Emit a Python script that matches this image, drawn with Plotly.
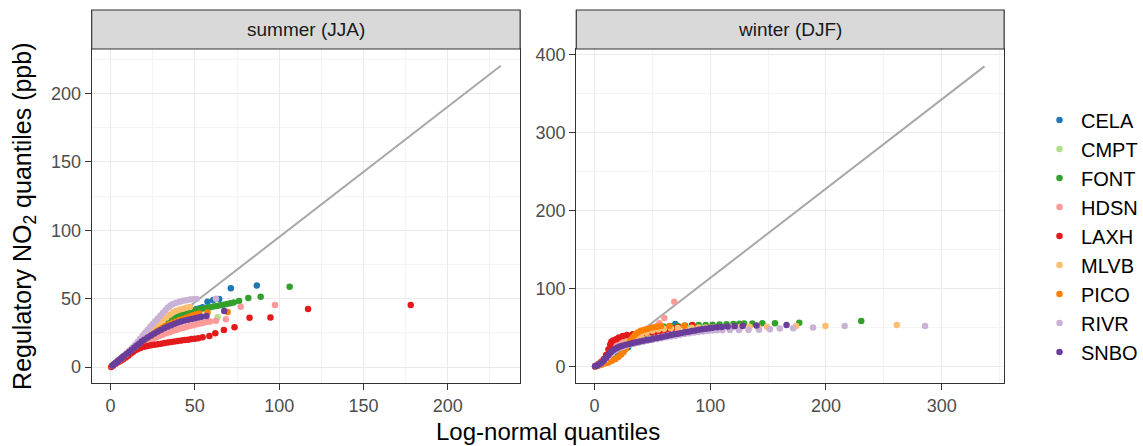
import plotly.graph_objects as go

# ---- station quantile data (x: log-normal quantiles, y: regulatory NO2 quantiles, ppb) ----
STATIONS = ["CELA", "CMPT", "FONT", "HDSN", "LAXH", "MLVB", "PICO", "RIVR", "SNBO"]
COLORS = ["#1F78B4", "#B2DF8A", "#33A02C", "#FB9A99", "#E31A1C",
          "#FDBF6F", "#FF7F00", "#CAB2D6", "#6A3D9A"]
PANEL_TITLES = ["summer (JJA)", "winter (DJF)"]

# reference lines
REF_SUMMER_X = [0.3, 231.4]
REF_SUMMER_Y = [0.0, 220.3]
REF_WINTER_X = [0.5, 337.0]
REF_WINTER_Y = [0.0, 385.0]

# summer (JJA)
CELA_SUMMER_X = [1, 3, 5, 7, 9, 11, 13, 15, 17, 19, 21, 23, 25, 27, 29, 31, 33, 35, 37, 39, 41, 43, 44.7,
                 47, 49, 51, 53, 54.6, 57.5, 60.9, 64.4, 71.3, 86.7]
CELA_SUMMER_Y = [1, 3, 5, 7, 9, 11, 13, 15, 17, 19, 21, 22.8, 24.6, 26.3, 28, 29.6, 31.1, 32.6, 34, 35.3,
                 36.6, 38, 39.7, 40.8, 41.6, 42.4, 43, 43.7, 47.8, 49, 49.7, 57.6, 59.6]

CMPT_SUMMER_X = [1, 3, 5, 7, 9, 11, 13, 15, 17, 19, 21, 23, 25, 27, 29, 31, 33, 35, 37, 39, 41, 43, 45, 63.5]
CMPT_SUMMER_Y = [1, 3, 5, 7, 9.2, 11.4, 13.6, 15.8, 18, 20, 22, 24, 25.8, 27.5, 29, 30.4, 31.6, 32.7,
                 33.6, 34.3, 34.9, 35.4, 35.8, 36.4]

FONT_SUMMER_X = [1, 3, 5, 7, 9, 11, 13, 15, 17, 19, 21, 23, 25, 27, 29, 31, 33, 35, 37, 39, 41, 43, 45,
                 47, 49, 51, 53, 55, 57, 59, 61, 63, 65, 67, 69, 71, 73, 76.2, 81.7, 89, 106.2]
FONT_SUMMER_Y = [1, 3, 5, 7, 9, 11, 13, 15, 17.2, 19.2, 21.1, 23, 24.9, 26.7, 28.5, 30.2, 31.9, 33.5,
                 35, 36.4, 37.6, 38.7, 39.7, 40.5, 41.2, 41.8, 42.3, 42.8, 43.2, 43.7, 44.2, 44.6, 45.1,
                 45.6, 46.1, 46.6, 47.2, 48.3, 50.4, 51.4, 58.7]

HDSN_SUMMER_X = [1, 3, 5, 7, 9, 11, 13, 15, 17, 19, 21, 23, 25, 27, 29, 31, 33, 35, 37, 39, 41, 43, 45,
                 47, 49, 51, 53, 55, 57, 59, 62.5, 68.4, 77.2, 97.5]
HDSN_SUMMER_Y = [0.8, 2.6, 4.4, 6.2, 8, 9.8, 11.5, 13.2, 14.8, 16.4, 17.8, 19.2, 20.4, 21.5, 22.6, 23.6,
                 24.6, 25.5, 26.3, 27.1, 27.9, 28.6, 29.3, 30, 30.6, 31.2, 31.8, 32.4, 32.9, 33.3, 33.9,
                 34.9, 44.1, 45.4]

LAXH_SUMMER_X = [0.4, 1.5, 3, 4.5, 6, 7.5, 9, 10.5, 12, 13.5, 15, 16.5, 18, 20, 22, 24, 26, 28, 30, 32,
                 34, 36, 38, 40, 42, 44, 46, 48, 50, 52, 54.6, 58.6, 62.1, 67.2, 73.5, 82.4, 94.8, 117.1,
                 178]
LAXH_SUMMER_Y = [0, 1, 2.3, 3.5, 4.6, 5.7, 7, 8.3, 9.8, 11.2, 12.4, 13.3, 14, 14.8, 15.4, 15.9, 16.3,
                 16.7, 17.1, 17.5, 17.9, 18.3, 18.7, 19, 19.4, 19.7, 20, 20.4, 20.7, 21, 21.7, 22.7, 24.6,
                 27.1, 29.1, 36.1, 36.2, 42.4, 45.4]

MLVB_SUMMER_X = [1, 3, 5, 7, 9, 11, 13, 15, 17, 19, 21, 23, 25, 27, 29, 31, 33, 35, 37, 39, 41, 43, 45, 47]
MLVB_SUMMER_Y = [1, 3, 5, 7, 9.2, 11.5, 13.8, 16, 18.3, 20.5, 22.7, 25, 27.2, 29.5, 31.7, 34, 36.2, 38.3,
                 40, 41.2, 42, 42.7, 43.3, 43.8]

PICO_SUMMER_X = [1, 3, 5, 7, 9, 11, 13, 15, 17, 19, 21, 23, 25, 27, 29, 31, 33, 35, 37, 39, 41, 43, 45,
                 47, 49, 51, 52.6, 57.5, 69.4]
PICO_SUMMER_Y = [1, 3, 5, 7, 9, 11, 13, 15, 17, 19, 20.8, 22.5, 24.2, 25.8, 27.3, 28.7, 30, 31.2, 32.3,
                 33.3, 34.3, 35.2, 36.1, 37, 37.8, 38.5, 39.2, 39.8, 40.2]

RIVR_SUMMER_X = [1, 2.5, 4, 5.5, 7, 8.5, 10, 11.5, 13, 14.5, 16, 17.5, 19, 20.5, 22, 23.5, 25, 26.5, 28,
                 29.5, 31, 32.5, 34, 35.5, 37, 39, 41, 43, 45, 47, 49, 51, 62.5]
RIVR_SUMMER_Y = [1, 2.5, 4, 5.5, 7, 8.7, 10.5, 12.3, 14.2, 16.2, 18.3, 20.5, 22.8, 25, 27.3, 29.5, 31.5,
                 33.5, 35.5, 37.5, 39.5, 41.5, 43.5, 45, 46, 47, 47.8, 48.4, 48.9, 49.3, 49.6, 49.8, 50]

SNBO_SUMMER_X = [1, 2, 3, 4, 5, 6, 7, 8, 9.5, 11, 12.5, 14, 15.5, 17, 18.5, 20, 22, 24, 26, 28, 30, 32,
                 34, 36, 38, 40, 42, 44, 46, 48, 50, 52, 54, 56.9, 67.4]
SNBO_SUMMER_Y = [1, 2, 3, 4, 5, 6, 7, 8, 9.5, 11, 12.5, 14, 15.5, 17, 18.7, 20, 21.5, 23, 24.5, 26, 27.3,
                 28.5, 29.6, 30.6, 31.6, 32.5, 33.3, 34, 34.6, 35.2, 35.7, 36.2, 36.7, 37.3, 41]

# winter (DJF)
CELA_WINTER_X = [0.5, 3, 6, 9, 12, 15, 18, 21, 25.8, 29, 32, 35, 38, 42, 46, 50, 55, 60, 65, 69.8]
CELA_WINTER_Y = [0.5, 2, 4, 6.5, 9.5, 12.5, 15.5, 18, 21.4, 25, 29.5, 34, 38, 41.5, 44, 46, 48, 50, 52,
                 54.7]

CMPT_WINTER_X = [0.5, 3, 6, 9, 12, 15, 18, 21, 25, 30, 35, 40, 45, 50, 55, 60, 66, 72, 78, 85]
CMPT_WINTER_Y = [0.5, 2.5, 5, 8.5, 13, 18, 22, 25.5, 29, 32.5, 35.5, 38.5, 41.5, 44, 46, 47.5, 48.8,
                 49.8, 50.5, 51]

FONT_WINTER_X = [0.5, 3, 6, 9, 12, 15, 18, 21, 24, 28, 32, 36, 40, 45, 50, 55, 60, 66, 72, 78, 84, 90,
                 96, 102, 108, 114, 120, 125, 129.2, 136.4, 145, 155.9, 176.9, 230.5]
FONT_WINTER_Y = [0.5, 2.5, 5, 8.5, 12.5, 17, 21.5, 25.5, 29, 33, 37, 40.5, 43.5, 46.5, 48.8, 50.3, 51.2,
                 51.8, 52.3, 52.7, 53, 53.3, 53.6, 53.9, 54.2, 54.5, 54.8, 55.1, 55.4, 55.5, 55.6, 55.7,
                 56.4, 58.6]

HDSN_WINTER_X = [0.5, 3, 6, 9, 12, 15, 18, 21, 25, 30, 35, 40, 45, 50, 53, 56, 60.3, 68.9]
HDSN_WINTER_Y = [0.5, 3, 6, 10, 15, 21, 26, 30, 33, 36, 39, 42, 45, 48.5, 51.5, 55.6, 62.5, 83.3]

LAXH_WINTER_X = [0.5, 2, 4, 6, 8, 10, 12, 13.5, 14.5, 16, 18.6, 21, 24.4, 28, 33, 38, 44.5, 49, 53, 57,
                 61, 64, 67.4, 72, 78, 84.6]
LAXH_WINTER_Y = [0.5, 2, 4, 6.5, 10, 15, 22, 28, 32, 33.5, 35.1, 37.5, 39.4, 40.5, 41.5, 42.2, 42.8,
                 43.8, 44.9, 46, 47.3, 48.3, 49.2, 50.5, 52, 53.4]

MLVB_WINTER_X = [0.5, 3, 6, 9, 12, 15, 18, 21, 24, 28, 32, 36, 40, 45, 50, 55, 60, 66, 72, 78, 84, 90,
                 96, 102, 110, 118, 126, 134, 141, 149.1, 174.2, 199.5, 261.2]
MLVB_WINTER_Y = [0.5, 2.5, 5, 8.5, 12.5, 17, 21, 24.5, 27.5, 31, 34.5, 37.5, 40.5, 43.5, 46, 47.8, 48.6,
                 49.2, 49.6, 49.8, 50, 50.1, 50.2, 50.3, 50.5, 50.7, 50.9, 51.1, 51.2, 51.3, 52.2, 52.3,
                 53.5]

PICO_WINTER_X = [0.5, 3, 6, 9, 12, 15, 18, 20.5, 23, 25, 27, 29, 31, 33, 35, 37.5, 40, 43, 46, 50, 54,
                 57.4, 64.6, 77.5]
PICO_WINTER_Y = [0, 1, 2.5, 4, 5.5, 7.5, 10, 12.5, 15.5, 19, 23, 28, 33, 37.5, 41, 44, 46, 47.5, 48.8,
                 50.2, 51.2, 52.1, 52.3, 52.5]

RIVR_WINTER_X = [0.5, 3, 6, 9, 12, 15, 18, 21, 24, 27, 30, 34, 38, 42, 46, 50, 54, 58, 62, 66, 70, 74,
                 78, 82, 86, 90, 94, 98, 102, 106, 110.5, 117, 124.9, 133, 142.1, 151.5, 160.1, 171.6,
                 188.8, 216.1, 285.6]
RIVR_WINTER_Y = [0.5, 2, 4.5, 8.5, 13, 17.5, 21, 23.5, 25.3, 26.7, 28, 29.5, 30.8, 32, 33.2, 34.3, 35.4,
                 36.5, 37.6, 38.7, 39.8, 40.8, 41.8, 42.8, 43.7, 44.5, 45.2, 45.8, 46.3, 46.6, 46.8, 46.9,
                 47, 47.1, 47.3, 47.9, 49.1, 49.2, 50.4, 52.2, 52.3]

SNBO_WINTER_X = [0.5, 2, 4, 6, 8, 10, 12, 14, 16, 18, 20, 22, 24, 27, 30, 33, 36, 39, 42, 45, 48, 51, 54,
                 57, 60, 63, 66, 69, 72, 75, 78, 81, 84, 87, 90, 93, 96, 99, 102, 106, 110, 115, 121,
                 128, 140, 165.9]
SNBO_WINTER_Y = [0.5, 1.5, 3, 5, 8, 11.5, 15, 18.5, 21, 23, 24.5, 25.8, 26.8, 28, 29.2, 30.3, 31.2, 32.2,
                 33.2, 34.1, 35, 36, 36.9, 37.8, 38.8, 39.7, 40.6, 41.5, 42.4, 43.3, 44.1, 44.9, 45.7,
                 46.5, 47.3, 48, 48.7, 49.4, 50, 50.6, 51, 51.4, 51.8, 52.2, 52.8, 53.5]

SUMMER_DATA = [(CELA_SUMMER_X, CELA_SUMMER_Y), (CMPT_SUMMER_X, CMPT_SUMMER_Y),
               (FONT_SUMMER_X, FONT_SUMMER_Y), (HDSN_SUMMER_X, HDSN_SUMMER_Y),
               (LAXH_SUMMER_X, LAXH_SUMMER_Y), (MLVB_SUMMER_X, MLVB_SUMMER_Y),
               (PICO_SUMMER_X, PICO_SUMMER_Y), (RIVR_SUMMER_X, RIVR_SUMMER_Y),
               (SNBO_SUMMER_X, SNBO_SUMMER_Y)]
WINTER_DATA = [(CELA_WINTER_X, CELA_WINTER_Y), (CMPT_WINTER_X, CMPT_WINTER_Y),
               (FONT_WINTER_X, FONT_WINTER_Y), (HDSN_WINTER_X, HDSN_WINTER_Y),
               (LAXH_WINTER_X, LAXH_WINTER_Y), (MLVB_WINTER_X, MLVB_WINTER_Y),
               (PICO_WINTER_X, PICO_WINTER_Y), (RIVR_WINTER_X, RIVR_WINTER_Y),
               (SNBO_WINTER_X, SNBO_WINTER_Y)]

SUMMER_XTICKS = [0, 50, 100, 150, 200]
SUMMER_YTICKS = [0, 50, 100, 150, 200]
WINTER_XTICKS = [0, 100, 200, 300]
WINTER_YTICKS = [0, 100, 200, 300, 400]

# ---- layout geometry (pixels in a 1143 x 446 page) ----
W, H = 1143, 446
FONT = "Liberation Sans, Arial, sans-serif"
PANELS_PX = [(92, 522), (578.3, 1007.7)]
PANEL_TOP, PANEL_BOTTOM, STRIP_TOP = 49, 383, 10

fig = go.Figure()

ref_lines = [(REF_SUMMER_X, REF_SUMMER_Y, "x", "y"), (REF_WINTER_X, REF_WINTER_Y, "x2", "y2")]
datasets = [SUMMER_DATA, WINTER_DATA]

for p, (rx, ry, xa, ya) in enumerate(ref_lines):
    fig.add_trace(go.Scatter(x=rx, y=ry, mode="lines", xaxis=xa, yaxis=ya,
                             line=dict(color="#A8A8A8", width=2), showlegend=False,
                             hoverinfo="skip"))
    for name, color, (sx, sy) in zip(STATIONS, COLORS, datasets[p]):
        fig.add_trace(go.Scatter(
            x=sx, y=sy, mode="markers", name=name, legendgroup=name,
            showlegend=(p == 0), xaxis=xa, yaxis=ya,
            marker=dict(color=color, size=6.5, line=dict(width=0)),
        ))

GRID = "#EBEBEB"
MINOR = "#F4F4F4"
AX = "#333333"


def axis_style(domain, rng, ticks, minor_ticks):
    return dict(
        domain=domain, range=rng, tickmode="array", tickvals=ticks,
        ticks="outside", ticklen=6, tickwidth=1.1, tickcolor=AX,
        showline=True, linecolor=AX, linewidth=1.2, mirror=True,
        showgrid=True, gridcolor=GRID, gridwidth=1.1, zeroline=False,
        minor=dict(tickvals=minor_ticks, showgrid=True, gridcolor=MINOR, gridwidth=0.8, ticks=""),
        tickfont=dict(family=FONT, size=18, color="#4D4D4D"),
        automargin=False, fixedrange=True,
    )


ydom = [(H - PANEL_BOTTOM) / H, (H - PANEL_TOP) / H]
xdom1 = [PANELS_PX[0][0] / W, PANELS_PX[0][1] / W]
xdom2 = [PANELS_PX[1][0] / W, PANELS_PX[1][1] / W]

fig.update_layout(
    width=W, height=H, template="none",
    margin=dict(l=0, r=0, t=0, b=0, pad=0),
    paper_bgcolor="white", plot_bgcolor="white",
    font=dict(family=FONT, color="black"),
    xaxis={**axis_style(xdom1, [-11.2, 242.9], SUMMER_XTICKS, [25, 75, 125, 175, 225]), "anchor": "y"},
    yaxis={**axis_style(ydom, [-11.7, 232.6], SUMMER_YTICKS, [25, 75, 125, 175, 225]), "anchor": "x"},
    xaxis2={**axis_style(xdom2, [-15.8, 354.0], WINTER_XTICKS, [50, 150, 250, 350]), "anchor": "y2"},
    yaxis2={**axis_style(ydom, [-20.9, 407.3], WINTER_YTICKS, [50, 150, 250, 350]), "anchor": "x2"},
    showlegend=True,
    legend=dict(x=1042 / W, xanchor="left", y=(H - 236) / H, yanchor="middle",
                font=dict(family=FONT, size=20, color="black"),
                bgcolor="rgba(0,0,0,0)", tracegroupgap=2.5, itemsizing="trace",
                itemwidth=33, traceorder="normal"),
)

# facet strips
for (x0, x1), title in zip(PANELS_PX, PANEL_TITLES):
    fig.add_shape(type="rect", xref="paper", yref="paper",
                  x0=x0 / W, x1=x1 / W, y0=(H - PANEL_TOP) / H, y1=(H - STRIP_TOP) / H,
                  fillcolor="#D9D9D9", line=dict(color=AX, width=1.2), layer="above")
    fig.add_annotation(xref="paper", yref="paper", x=(x0 + x1) / 2 / W,
                       y=(H - (STRIP_TOP + PANEL_TOP) / 2) / H,
                       text=title, showarrow=False, xanchor="center", yanchor="middle",
                       font=dict(family=FONT, size=19, color="#1A1A1A"))

# axis titles
fig.add_annotation(xref="paper", yref="paper", x=550 / W, y=(H - 431) / H,
                   text="Log-normal quantiles", showarrow=False,
                   xanchor="center", yanchor="middle",
                   font=dict(family=FONT, size=24, color="black"))
fig.add_annotation(xref="paper", yref="paper", x=24 / W, y=(H - 216) / H,
                   text="Regulatory NO<sub>2</sub> quantiles (ppb)", showarrow=False,
                   textangle=-90, xanchor="center", yanchor="middle",
                   font=dict(family=FONT, size=25, color="black"))

fig.write_html("out.html")
